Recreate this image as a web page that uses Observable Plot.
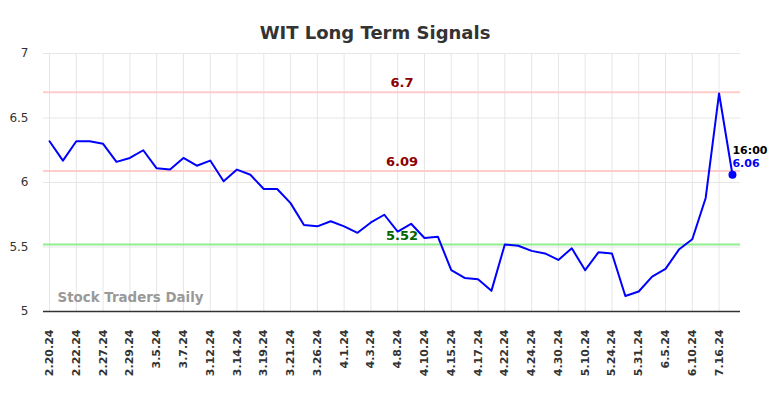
<!DOCTYPE html>
<html><head><meta charset="utf-8">
<script src="https://cdn.jsdelivr.net/npm/d3@7"></script>
<script src="https://cdn.jsdelivr.net/npm/@observablehq/plot@0.6"></script>
<style>body{margin:0;background:#fff;font-family:"DejaVu Sans",sans-serif}</style>
</head><body><div id="chart"></div>
<script>
const title = "WIT Long Term Signals";
const tickLabels = ["2.20.24","2.22.24","2.27.24","2.29.24","3.5.24","3.7.24","3.12.24","3.14.24","3.19.24","3.21.24","3.26.24","4.1.24","4.3.24","4.8.24","4.10.24","4.15.24","4.17.24","4.22.24","4.24.24","4.30.24","5.10.24","5.24.24","5.31.24","6.5.24","6.10.24","7.16.24"];
const closes = [6.32,6.17,6.32,6.32,6.30,6.16,6.19,6.25,6.11,6.10,6.19,6.13,6.17,6.01,6.10,6.06,
  5.95,5.95,5.84,5.67,5.66,5.70,5.66,5.61,5.69,5.75,5.62,5.68,5.57,5.58,5.32,5.26,5.25,5.16,5.52,
  5.51,5.47,5.45,5.40,5.49,5.32,5.46,5.45,5.12,5.155,5.27,5.33,5.48,5.56,5.88,6.69,6.06];
const levels = [6.7, 6.09, 5.52];
const levelLine = ["#ffcccc","#ffcccc","#90ee90"];
const levelText = ["#8b0000","#8b0000","#006400"];
const yTicks = [5,5.5,6,6.5,7];
const lastTime = "16:00";

const data = closes.map((v,i)=>({i, v}));
const last = data[data.length-1];
const xTicks = d3.range(0, closes.length, 2);

const chart = Plot.plot({
  width:784, height:398, marginTop:53, marginBottom:87, marginLeft:43, marginRight:44,
  style:{fontFamily:"DejaVu Sans", fontSize:"11px", color:"#333", background:"#fff", overflow:"visible"},
  x:{domain:[-0.45,51.6], label:null},
  y:{domain:[5,7], label:null},
  marks:[
    Plot.gridX(xTicks, {stroke:"#e6e6e6", strokeOpacity:1}),
    Plot.gridY(yTicks, {stroke:"#e6e6e6", strokeOpacity:1}),
    Plot.axisX(xTicks, {tickFormat:i=>tickLabels[i/2], tickRotate:-90, tickSize:0, tickPadding:18, fontSize:11, fontWeight:"bold", label:null}),
    Plot.axisY(yTicks, {tickFormat:d=>String(d), tickSize:0, tickPadding:15, fontSize:12, label:null}),
    ...levels.map((L,k)=>Plot.ruleY([L], {stroke:levelLine[k], strokeWidth:2})),
    ...levels.map((L,k)=>Plot.text([L], {y:d=>d, text:d=>String(d), frameAnchor:"middle", dx:10, dy:-9, fill:levelText[k], fontWeight:"bold", fontSize:13})),
    Plot.ruleY([5], {stroke:"#333", strokeWidth:1.5}),
    Plot.text([title], {text:d=>d, frameAnchor:"top", dx:-17, dy:-27, fontSize:18, fontWeight:"bold", fill:"#333"}),
    Plot.text(["Stock Traders Daily"], {text:d=>d, frameAnchor:"bottom-left", textAnchor:"start", dx:14, dy:-10, fontSize:13.4, fontWeight:"bold", fill:"#999"}),
    Plot.line(data, {x:"i", y:"v", stroke:"#0000ff", strokeWidth:2}),
    Plot.dot([last], {x:"i", y:"v", r:4, fill:"#0000ff"}),
    Plot.text([last], {x:"i", y:"v", text:()=>lastTime, textAnchor:"start", dy:-24, fontSize:11, fontWeight:"bold", fill:"#000"}),
    Plot.text([last], {x:"i", y:"v", text:d=>d.v.toFixed(2), textAnchor:"start", dy:-11, fontSize:11, fontWeight:"bold", fill:"#0000ff"})
  ]
});
document.getElementById("chart").appendChild(chart);
</script></body></html>
